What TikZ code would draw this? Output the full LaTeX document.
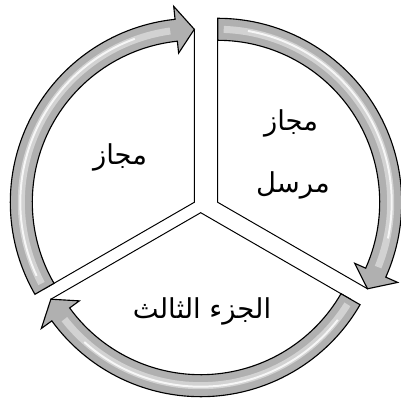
\documentclass[tikz,border=0pt]{standalone}
\usepackage{fontspec}
\newfontfamily\arabicfont[Script=Arabic]{DejaVu Sans}
\TeXXeTstate=1
\definecolor{bandgray}{RGB}{176,176,176}
\definecolor{bandlight}{RGB}{210,210,210}
\begin{document}
\begin{tikzpicture}[x=0.025cm,y=0.025cm,
    pie/.style={fill=white,draw=black,line width=0.7pt},
    band/.style={fill=bandgray,draw=black,line width=0.8pt,line join=miter},
    shine/.style={bandlight,line width=5pt},
    glint/.style={white!80!bandlight,line width=1.4pt},
    lbl/.style={font=\arabicfont\fontsize{19.5}{22}\selectfont}]
    % Frame
    \useasboundingbox (0,0) rectangle (401,401);
    % Coordinate
    \coordinate (C1) at (194.3,198.7);
    \coordinate (C2) at (217.7,198.7);
    \coordinate (C3) at (200.7,188.3);
    % Sector 1 (left)
    \begin{scope}[shift={(C1)}]
        \draw [pie] (0,0) -- (210:173) arc [start angle=210, end angle=90, radius=173] -- cycle;
        \draw [band] (210:184) arc [start angle=210, end angle=96, radius=184] -- (96:197) -- (90:173) -- (96:150) -- (96:162) arc [start angle=96, end angle=210, radius=162] -- cycle;
        \draw [shine] (208:173) arc [start angle=208, end angle=98, radius=173];
        \draw [glint] (205:174) arc [start angle=205, end angle=110, radius=174];
    \end{scope}
    % Sector 2 (right)
    \begin{scope}[shift={(C2)}]
        \draw [pie] (0,0) -- (90:173) arc [start angle=90, end angle=-30, radius=173] -- cycle;
        \draw [band] (90:184) arc [start angle=90, end angle=-24, radius=184] -- (-24:197) -- (-30:173) -- (-24:150) -- (-24:162) arc [start angle=-24, end angle=90, radius=162] -- cycle;
        \draw [shine] (88:173) arc [start angle=88, end angle=-22, radius=173];
        \draw [glint] (80:174) arc [start angle=80, end angle=-12, radius=174];
    \end{scope}
    % Sector 3 (bottom)
    \begin{scope}[shift={(C3)}]
        \draw [pie] (0,0) -- (-30:173) arc [start angle=-30, end angle=-150, radius=173] -- cycle;
        \draw [band] (-30:184) arc [start angle=-30, end angle=-144, radius=184] -- (-144:197) -- (-150:173) -- (-144:150) -- (-144:162) arc [start angle=-144, end angle=-30, radius=162] -- cycle;
        \draw [shine] (-32:173) arc [start angle=-32, end angle=-142, radius=173];
        \draw [glint] (-38:174) arc [start angle=-38, end angle=-132, radius=174];
    \end{scope}
    % Labels
    \node [lbl] (t1) at (120,244) {\beginR مجاز\endR};
    \node [lbl] (t2) at (291,278) {\beginR مجاز\endR};
    \node [lbl] (t3) at (293,216) {\beginR مرسل\endR};
    \node [lbl] (t4) at (202,90) {\beginR الجزء الثالث\endR};
\end{tikzpicture}
\end{document}
